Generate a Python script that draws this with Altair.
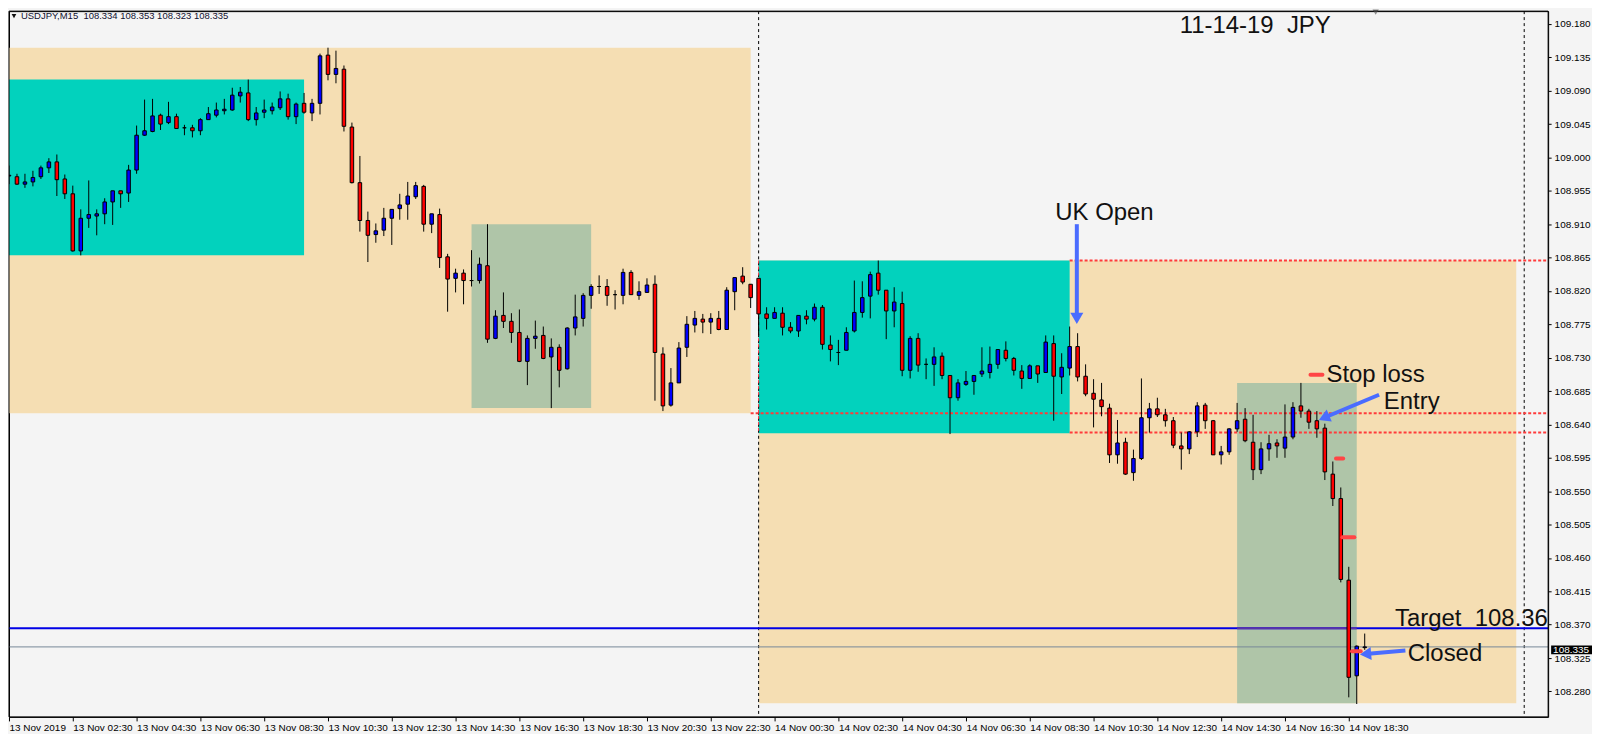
import altair as alt
import pandas as pd

# ---------------- candle data (USDJPY M15, bar 0 = 13 Nov 00:30) ----------------
OPEN = [108.975, 108.974, 108.964, 108.967, 108.974, 108.986, 108.994, 108.971, 108.951, 108.874,
        108.918, 108.921, 108.924, 108.940, 108.955, 108.952, 108.983, 109.030, 109.035, 109.057,
        109.047, 109.055, 109.040, 109.040, 109.036, 109.051, 109.057, 109.063, 109.064, 109.083,
        109.087, 109.051, 109.061, 109.063, 109.067, 109.079, 109.055, 109.073, 109.060, 109.073,
        109.138, 109.112, 109.119, 109.041, 108.966, 108.915, 108.896, 108.902, 108.918, 108.931,
        108.937, 108.947, 108.961, 108.910, 108.923, 108.866, 108.837, 108.844, 108.834, 108.834,
        108.854, 108.756, 108.787, 108.779, 108.764, 108.725, 108.756, 108.760, 108.731, 108.744,
        108.715, 108.770, 108.783, 108.814, 108.826, 108.826, 108.815, 108.814, 108.845, 108.814,
        108.818, 108.829, 108.735, 108.666, 108.696, 108.744, 108.774, 108.782, 108.778, 108.783,
        108.768, 108.819, 108.840, 108.829, 108.837, 108.789, 108.783, 108.790, 108.771, 108.766,
        108.786, 108.782, 108.798, 108.747, 108.737, 108.740, 108.766, 108.791, 108.813, 108.844,
        108.821, 108.793, 108.803, 108.713, 108.756, 108.721, 108.721, 108.732, 108.706, 108.676,
        108.694, 108.698, 108.708, 108.710, 108.721, 108.740, 108.729, 108.712, 108.702, 108.719,
        108.710, 108.749, 108.704, 108.716, 108.745, 108.705, 108.682, 108.673, 108.662, 108.599,
        108.616, 108.575, 108.594, 108.649, 108.661, 108.653, 108.645, 108.611, 108.607, 108.630,
        108.666, 108.645, 108.599, 108.603, 108.634, 108.647, 108.616, 108.579, 108.607, 108.615,
        108.608, 108.623, 108.665, 108.658, 108.645, 108.635, 108.573, 108.540, 108.430, 108.301,
        108.339]
HIGH = [108.989, 108.978, 108.978, 108.982, 108.989, 108.999, 109.004, 108.977, 108.962, 108.930,
        108.969, 108.930, 108.945, 108.955, 108.955, 108.990, 109.043, 109.078, 109.079, 109.059,
        109.075, 109.059, 109.044, 109.044, 109.053, 109.068, 109.074, 109.079, 109.094, 109.095,
        109.105, 109.068, 109.078, 109.074, 109.089, 109.086, 109.074, 109.087, 109.079, 109.140,
        109.148, 109.144, 109.124, 109.047, 109.002, 108.927, 108.911, 108.932, 108.930, 108.951,
        108.967, 108.967, 108.963, 108.924, 108.931, 108.870, 108.850, 108.849, 108.875, 108.865,
        108.910, 108.794, 108.818, 108.790, 108.795, 108.760, 108.780, 108.772, 108.756, 108.748,
        108.771, 108.815, 108.817, 108.829, 108.841, 108.836, 108.821, 108.850, 108.848, 108.833,
        108.837, 108.841, 108.744, 108.716, 108.751, 108.786, 108.793, 108.789, 108.790, 108.793,
        108.825, 108.838, 108.852, 108.829, 108.837, 108.798, 108.798, 108.798, 108.778, 108.787,
        108.794, 108.803, 108.801, 108.760, 108.754, 108.771, 108.834, 108.833, 108.846, 108.861,
        108.821, 108.825, 108.819, 108.759, 108.763, 108.729, 108.744, 108.737, 108.706, 108.701,
        108.712, 108.706, 108.744, 108.745, 108.741, 108.752, 108.731, 108.720, 108.721, 108.719,
        108.760, 108.760, 108.736, 108.772, 108.763, 108.721, 108.701, 108.696, 108.668, 108.646,
        108.622, 108.606, 108.702, 108.669, 108.676, 108.661, 108.650, 108.629, 108.631, 108.670,
        108.669, 108.646, 108.611, 108.635, 108.669, 108.662, 108.653, 108.616, 108.626, 108.620,
        108.667, 108.670, 108.696, 108.661, 108.658, 108.641, 108.590, 108.555, 108.448, 108.342,
        108.358]
LOW = [108.964, 108.963, 108.959, 108.961, 108.971, 108.979, 108.948, 108.944, 108.873, 108.868,
       108.905, 108.895, 108.910, 108.909, 108.932, 108.940, 108.978, 109.029, 109.034, 109.037,
       109.045, 109.039, 109.030, 109.027, 109.030, 109.051, 109.054, 109.058, 109.063, 109.074,
       109.049, 109.043, 109.053, 109.058, 109.064, 109.051, 109.045, 109.059, 109.049, 109.058,
       109.104, 109.100, 109.035, 108.965, 108.900, 108.859, 108.885, 108.894, 108.882, 108.916,
       108.916, 108.944, 108.900, 108.898, 108.851, 108.792, 108.818, 108.802, 108.826, 108.830,
       108.750, 108.755, 108.770, 108.750, 108.724, 108.693, 108.742, 108.728, 108.662, 108.690,
       108.714, 108.760, 108.772, 108.796, 108.816, 108.800, 108.795, 108.802, 108.815, 108.808,
       108.818, 108.672, 108.658, 108.664, 108.696, 108.731, 108.764, 108.763, 108.762, 108.767,
       108.768, 108.794, 108.829, 108.797, 108.760, 108.768, 108.783, 108.760, 108.763, 108.758,
       108.775, 108.779, 108.741, 108.725, 108.720, 108.740, 108.764, 108.784, 108.783, 108.815,
       108.755, 108.771, 108.705, 108.702, 108.711, 108.701, 108.692, 108.701, 108.627, 108.672,
       108.692, 108.680, 108.704, 108.702, 108.715, 108.725, 108.706, 108.688, 108.702, 108.696,
       108.710, 108.645, 108.681, 108.706, 108.698, 108.678, 108.636, 108.651, 108.588, 108.587,
       108.572, 108.564, 108.592, 108.629, 108.650, 108.637, 108.608, 108.579, 108.600, 108.623,
       108.634, 108.599, 108.586, 108.599, 108.630, 108.616, 108.565, 108.573, 108.591, 108.595,
       108.595, 108.620, 108.649, 108.634, 108.622, 108.565, 108.530, 108.427, 108.272, 108.263,
       108.336]
CLOSE = [108.976, 108.964, 108.967, 108.973, 108.986, 108.994, 108.970, 108.951, 108.874, 108.918,
         108.923, 108.924, 108.940, 108.955, 108.951, 108.983, 109.030, 109.036, 109.056, 109.045,
         109.055, 109.039, 109.040, 109.036, 109.051, 109.059, 109.064, 109.065, 109.084, 109.088,
         109.051, 109.060, 109.064, 109.068, 109.079, 109.055, 109.072, 109.061, 109.073, 109.137,
         109.112, 109.120, 109.042, 108.966, 108.915, 108.895, 108.901, 108.918, 108.930, 108.936,
         108.948, 108.962, 108.910, 108.924, 108.865, 108.836, 108.844, 108.834, 108.834, 108.856,
         108.755, 108.786, 108.779, 108.764, 108.725, 108.756, 108.759, 108.729, 108.744, 108.713,
         108.770, 108.785, 108.814, 108.826, 108.826, 108.814, 108.815, 108.845, 108.815, 108.819,
         108.828, 108.737, 108.665, 108.696, 108.743, 108.775, 108.783, 108.778, 108.783, 108.768,
         108.821, 108.838, 108.832, 108.811, 108.789, 108.783, 108.791, 108.771, 108.766, 108.787,
         108.782, 108.798, 108.748, 108.741, 108.737, 108.764, 108.791, 108.811, 108.842, 108.821,
         108.793, 108.805, 108.713, 108.756, 108.720, 108.721, 108.731, 108.706, 108.676, 108.696,
         108.698, 108.706, 108.712, 108.721, 108.741, 108.729, 108.713, 108.702, 108.719, 108.708,
         108.751, 108.705, 108.717, 108.745, 108.704, 108.681, 108.674, 108.664, 108.599, 108.615,
         108.573, 108.594, 108.649, 108.661, 108.653, 108.645, 108.612, 108.607, 108.630, 108.665,
         108.645, 108.599, 108.603, 108.634, 108.645, 108.618, 108.579, 108.607, 108.614, 108.611,
         108.623, 108.663, 108.658, 108.643, 108.634, 108.576, 108.540, 108.431, 108.299, 108.341,
         108.340]

# ---------------- axis tick labels ----------------
TICK_LABELS = ["13 Nov 2019", "13 Nov 02:30", "13 Nov 04:30", "13 Nov 06:30", "13 Nov 08:30",
               "13 Nov 10:30", "13 Nov 12:30", "13 Nov 14:30", "13 Nov 16:30", "13 Nov 18:30",
               "13 Nov 20:30", "13 Nov 22:30", "14 Nov 00:30", "14 Nov 02:30", "14 Nov 04:30",
               "14 Nov 06:30", "14 Nov 08:30", "14 Nov 10:30", "14 Nov 12:30", "14 Nov 14:30",
               "14 Nov 16:30", "14 Nov 18:30"]
TICK_BARS = [0, 8, 16, 24, 32, 40, 48, 56, 64, 72, 80, 88, 96, 104, 112, 120, 128, 136, 144,
             152, 160, 168]
PRICE_TICKS = [108.280, 108.325, 108.370, 108.415, 108.460, 108.505, 108.550, 108.595, 108.640,
               108.685, 108.730, 108.775, 108.820, 108.865, 108.910, 108.955, 109.000, 109.045,
               109.090, 109.135, 109.180]

# ---------------- session boxes ----------------
ZONE_START = [-2, -2, 58, 94, 94, 154]
ZONE_END = [93, 37, 73, 189, 133, 169]
ZONE_TOP = [109.148, 109.105, 108.910, 108.861, 108.861, 108.696]
ZONE_BOTTOM = [108.655, 108.868, 108.662, 108.264, 108.628, 108.264]
ZONE_FILL = ["#F5DEB3", "#02D2BD", "#AFC5A8", "#F5DEB3", "#02D2BD", "#AFC5A8"]

# ---------------- lines ----------------
SEPARATOR_BARS = [94, 190]
LEVEL_START = [133, 93, 133]
LEVEL_PRICE = [108.861, 108.655, 108.629]
TARGET_PRICE = 108.365
BID_PRICE = 108.340
BID_LABEL = "108.335"
BID_LABEL_PRICE = 108.336

# ---------------- annotations ----------------
NOTE_TEXT = ["11-14-19 \u00a0JPY", "UK Open", "Stop loss", "Entry", "Target \u00a0108.36", "Closed"]
NOTE_BAR = [146.8, 131.2, 165.2, 172.4, 173.8, 175.4]
NOTE_PRICE = [109.168, 108.916, 108.697, 108.661, 108.368, 108.321]

STOP_START = [163.2, 166.4, 167.2, 168.4]
STOP_END = [164.7, 167.3, 168.7, 169.5]
STOP_PRICE = [108.707, 108.594, 108.488, 108.334]

ARROW_TAIL_BAR = [133.9, 171.8, 175.1]
ARROW_TAIL_PRICE = [108.910, 108.680, 108.335]
ARROW_HEAD_BAR = [133.9, 164.9, 170.1]
ARROW_HEAD_PRICE = [108.783, 108.649, 108.3305]
ARROW_ANGLE = [180, 247, 265]

HEADER = "USDJPY,M15 \u00a0108.334 108.353 108.323 108.335"

# ---------------- frames ----------------
candles = pd.DataFrame({"bar": list(range(len(OPEN))), "open": OPEN, "high": HIGH,
                        "low": LOW, "close": CLOSE})
candles["fillcol"] = ["#0000FF" if c >= o else "#FF0000" for o, c in zip(OPEN, CLOSE)]
candles["top"] = [max(o, c) for o, c in zip(OPEN, CLOSE)]
candles["bottom"] = [min(o, c) for o, c in zip(OPEN, CLOSE)]

zones = pd.DataFrame({"x0": ZONE_START, "x1": ZONE_END, "top": ZONE_TOP,
                      "bot": ZONE_BOTTOM, "fill": ZONE_FILL})
seps = pd.DataFrame({"bar": SEPARATOR_BARS})
levels = pd.DataFrame({"x0": LEVEL_START, "x1": [193] * len(LEVEL_START), "price": LEVEL_PRICE})
notes = pd.DataFrame({"bar": NOTE_BAR, "price": NOTE_PRICE, "text": NOTE_TEXT})
stops = pd.DataFrame({"x0": STOP_START, "x1": STOP_END, "price": STOP_PRICE})
arrows = pd.DataFrame({"x0": ARROW_TAIL_BAR, "p0": ARROW_TAIL_PRICE, "x1": ARROW_HEAD_BAR,
                       "p1": ARROW_HEAD_PRICE, "angle": ARROW_ANGLE})

W, H = 1544, 708
x_scale = alt.Scale(domain=[0, 193], nice=False, zero=False)
y_scale = alt.Scale(domain=[108.2456, 109.1973], nice=False, zero=False)

label_expr = "[" + ",".join("'%s'" % s for s in TICK_LABELS) + "][round(datum.value / 8)]"
x_axis = alt.Axis(values=TICK_BARS, labelExpr=label_expr, title=None, grid=False, domain=False,
                  tickColor="black", tickSize=4, labelAlign="left", labelPadding=2,
                  labelFont="Liberation Sans", labelFontSize=10, labelColor="black",
                  labelOverlap=False, labelFlush=False, labelBound=False)
y_axis = alt.Axis(orient="right", values=PRICE_TICKS, format=".3f", title=None, grid=False,
                  domain=False, tickColor="black", tickSize=3, labelPadding=3,
                  labelFont="Liberation Sans", labelFontSize=10, labelColor="black",
                  labelOverlap=False, labelFlush=False)


def X(f):
    return alt.X(f, type="quantitative", scale=x_scale, axis=x_axis)


def Y(f):
    return alt.Y(f, type="quantitative", scale=y_scale, axis=y_axis)


zone_layer = alt.Chart(zones).mark_rect(clip=True).encode(
    x=X("x0"), x2="x1", y=Y("top"), y2="bot", fill=alt.Fill("fill:N", scale=None))

sep_layer = alt.Chart(seps).mark_rule(color="black", strokeDash=[3, 3], strokeWidth=1).encode(
    x=X("bar"))
sep_red = alt.Chart(pd.DataFrame({"bar": [94], "top": [108.861], "bot": [108.628]})).mark_rule(
    color="#ff2d41", strokeDash=[3, 3], strokeWidth=1).encode(x=X("bar"), y=Y("top"), y2="bot")

level_layer = alt.Chart(levels).mark_rule(clip=True, color="#ff3b3b", strokeDash=[3, 2],
                                          strokeWidth=2).encode(x=X("x0"), x2="x1", y=Y("price"))

target_layer = alt.Chart(pd.DataFrame({"price": [TARGET_PRICE]})).mark_rule(
    color="#0000e6", strokeWidth=2).encode(y=Y("price"))
target_purple = alt.Chart(pd.DataFrame({"x0": [ZONE_START[5]], "x1": [ZONE_END[5]],
                                        "price": [TARGET_PRICE]})).mark_rule(
    color="#5a32a8", strokeWidth=2).encode(x=X("x0"), x2="x1", y=Y("price"))
bid_layer = alt.Chart(pd.DataFrame({"price": [BID_PRICE]})).mark_rule(
    color="#778899", strokeWidth=1).encode(y=Y("price"))

wick_layer = alt.Chart(candles).mark_rule(color="black", strokeWidth=1, clip=True).encode(
    x=X("bar"), y=Y("low"), y2="high")
body_layer = alt.Chart(candles).transform_calculate(
    left="datum.bar - 0.22", right="datum.bar + 0.22"
).mark_rect(stroke="black", strokeWidth=1, clip=True).encode(
    x=X("left"), x2="right", y=Y("bottom"), y2="top", fill=alt.Fill("fillcol:N", scale=None))

stop_layer = alt.Chart(stops).mark_rule(color="#ff4545", strokeWidth=4, strokeCap="round").encode(
    x=X("x0"), x2="x1", y=Y("price"))

arrow_shaft = alt.Chart(arrows).mark_rule(color="#4a6cff", strokeWidth=4).encode(
    x=X("x0"), x2="x1", y=Y("p0"), y2="p1")
arrow_head = alt.Chart(arrows).mark_point(shape="triangle-up", filled=True, size=170,
                                          color="#4a6cff", opacity=1).encode(
    x=X("x1"), y=Y("p1"), angle=alt.Angle("angle:Q", scale=None))

note_layer = alt.Chart(notes).mark_text(align="left", baseline="alphabetic",
                                        font="Liberation Sans", fontSize=24,
                                        color="#111111").encode(
    x=X("bar"), y=Y("price"), text="text:N")

tag_df = pd.DataFrame({"price": [BID_LABEL_PRICE], "label": [BID_LABEL]})
tag_box = alt.Chart(tag_df).transform_calculate(
    t="datum.price + 0.006", b="datum.price - 0.006"
).mark_rect(color="black").encode(x=alt.value(W + 3), x2=alt.value(W + 44), y=Y("t"), y2="b")
tag_text = alt.Chart(tag_df).mark_text(align="left", baseline="middle", font="Liberation Sans",
                                       fontSize=10, color="white").encode(
    x=alt.value(W + 5), y=Y("price"), text="label:N")

hdr_df = pd.DataFrame({"text": [HEADER]})
hdr_tri = alt.Chart(hdr_df).mark_point(shape="triangle-down", filled=True, size=22,
                                       color="#101010", opacity=1).encode(
    x=alt.value(5), y=alt.value(5))
hdr_text = alt.Chart(hdr_df).mark_text(align="left", baseline="middle", font="Liberation Sans",
                                       fontSize=9.5, color="#101030").encode(
    x=alt.value(12), y=alt.value(5), text="text:N")
shift_tri = alt.Chart(hdr_df).mark_point(shape="triangle-down", filled=True, size=40,
                                         color="#8a8a8a", opacity=1).encode(
    x=alt.value(1371), y=alt.value(1))

frame = alt.Chart(hdr_df).mark_rect(fillOpacity=0, stroke="black", strokeWidth=1).encode(
    x=alt.value(0), x2=alt.value(W), y=alt.value(0), y2=alt.value(H))

chart = alt.layer(
    zone_layer, sep_layer, sep_red, level_layer, target_layer, target_purple, bid_layer,
    wick_layer, body_layer, stop_layer, arrow_shaft, arrow_head, note_layer,
    tag_box, tag_text, hdr_tri, hdr_text, shift_tri, frame
).properties(
    width=W, height=H, padding=0, background="#f4f4f4"
).configure_view(fill="#f4f4f4", stroke="black", strokeWidth=1)

chart.save("out.html", embed_options={"renderer": "svg", "actions": False})
